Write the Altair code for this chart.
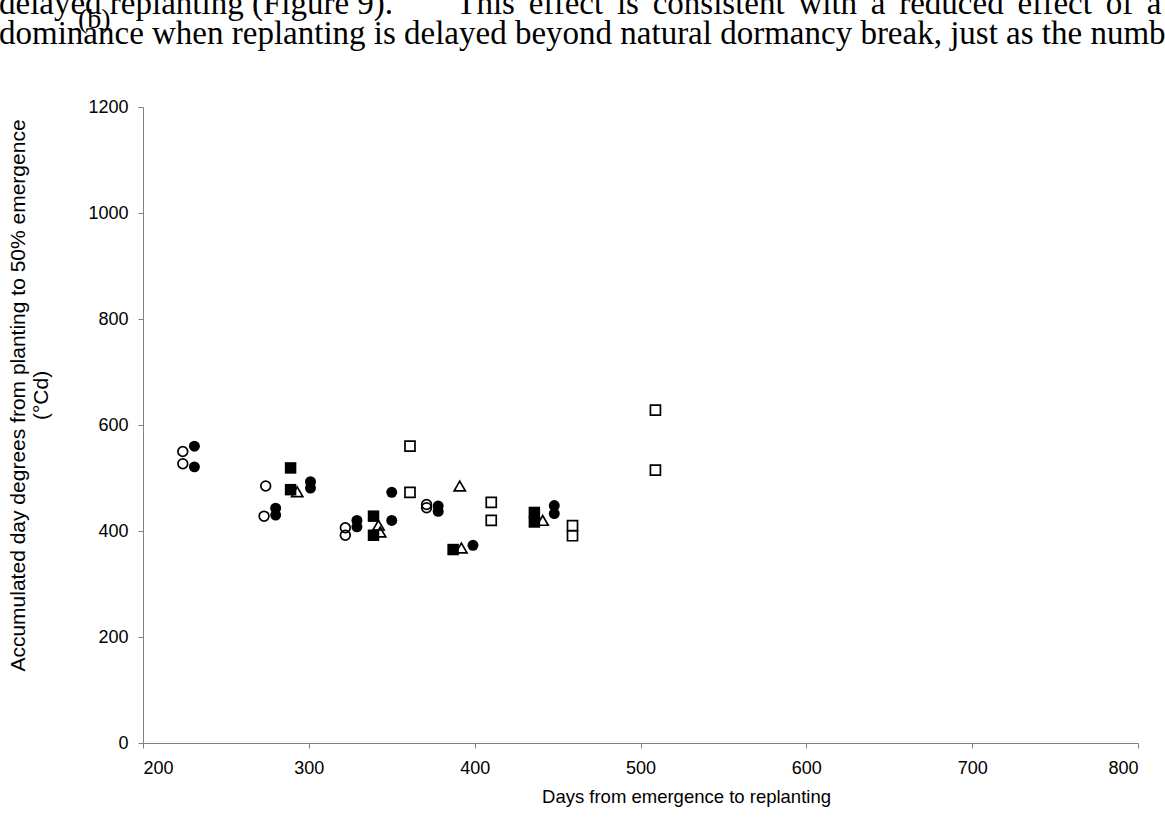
import altair as alt
import pandas as pd

# Days from emergence to replanting (x) and accumulated day degrees (y), per symbol group
open_circle_days = [224, 224, 274, 273, 322, 322, 371, 371]
open_circle_cd = [550, 527, 485, 428, 406, 392, 450, 444]

filled_circle_days = [231, 231, 280, 280, 301, 301, 329, 329, 350, 350, 378, 378, 399, 448, 448]
filled_circle_cd = [560, 521, 443, 430, 493, 481, 420, 408, 473, 420, 447, 437, 373, 448, 433]

filled_square_days = [289, 289, 339, 339, 387, 436, 436]
filled_square_cd = [519, 478, 428, 392, 365, 435, 417]

open_square_days = [361, 361, 410, 410, 459, 459, 509, 509]
open_square_cd = [560, 473, 454, 420, 410, 391, 628, 515]

open_triangle_days = [293, 342, 343, 391, 392, 441]
open_triangle_cd = [474, 411, 398, 485, 368, 420]

x_ticks = [200, 300, 400, 500, 600, 700, 800]
y_ticks = [0, 200, 400, 600, 800, 1000, 1200]

# justified body text: widen the word gaps of the second sentence with six-per-em spaces
SIXEM = "\u2006"
NBSP = "\u00a0"
line_1_head = "delayed replanting (Figure 9)."
line_1_tail = ["This", "effect", "is", "consistent", "with", "a", "reduced", "effect", "of", "a"]
text_line_1 = line_1_head + NBSP * 7 + SIXEM + (" " + SIXEM).join(line_1_tail)
text_line_2 = "dominance when replanting is delayed beyond natural dormancy break, just as the numb"
panel_label = "(b)"

W, H = 995, 636
PAD_L, PAD_T = 143, 107

x_scale = alt.Scale(domain=[200, 800], nice=False, zero=False)
y_scale = alt.Scale(domain=[0, 1200], nice=False)

x_axis = alt.Axis(
    values=x_ticks, format="d", title="Days from emergence to replanting", grid=False,
    domainColor="#808080", tickColor="#808080", tickSize=5,
    labelFont="Liberation Sans", labelFontSize=18, labelColor="black", labelPadding=11,
    titleFont="Liberation Sans", titleFontSize=18.5, titleFontWeight="normal",
    titleColor="black", titlePadding=10, titleX=686 - PAD_L, titleAnchor="middle",
)
y_axis = alt.Axis(
    values=y_ticks, format="d",
    title=["Accumulated day degrees from planting to 50% emergence", "(°Cd)"],
    grid=False, domainColor="#808080", tickColor="#808080", tickSize=5,
    labelFont="Liberation Sans", labelFontSize=18, labelColor="black", labelPadding=10,
    titleFont="Liberation Sans", titleFontSize=21, titleFontWeight="normal",
    titleColor="black", titleLineHeight=23, titleBaseline="middle",
    titleX=18 - PAD_L, titleY=H / 2 - 30, titleAngle=270,
)


def group(days, cd, shape, filled, size, stroke_width=1.7):
    df = pd.DataFrame({"days": days, "cd": cd})
    if filled:
        mark = alt.Chart(df).mark_point(shape=shape, filled=True, size=size,
                                        color="black", opacity=1)
    else:
        mark = alt.Chart(df).mark_point(shape=shape, filled=False, size=size,
                                        color="black", opacity=1, strokeWidth=stroke_width)
    return mark.encode(
        x=alt.X("days:Q", scale=x_scale, axis=x_axis),
        y=alt.Y("cd:Q", scale=y_scale, axis=y_axis),
    )


layers = [
    group(open_circle_days, open_circle_cd, "circle", False, 95),
    group(filled_circle_days, filled_circle_cd, "circle", True, 120),
    group(filled_square_days, filled_square_cd, "square", True, 132),
    group(open_square_days, open_square_cd, "square", False, 100),
    group(open_triangle_days, open_triangle_cd, "triangle-up", False, 125),
]


def note(text, x, y, size):
    return alt.Chart(pd.DataFrame({"t": [text]})).mark_text(
        font="Liberation Serif", fontSize=size, align="left", baseline="alphabetic", color="black"
    ).encode(text="t:N", x=alt.value(x - PAD_L), y=alt.value(y - PAD_T))


body_text = [
    note(text_line_1, -1, 14, 33),
    note(text_line_2, -1, 44, 33),
    note(panel_label, 78, 28, 28),
]

chart = alt.layer(*layers, *body_text).properties(
    width=W, height=H,
    autosize=alt.AutoSizeParams(type="none"),
    padding={"left": PAD_L, "top": PAD_T, "right": 1165 - PAD_L - W, "bottom": 823 - PAD_T - H},
    background="white",
).configure_view(stroke=None)

chart.save("out.html", embed_options={"renderer": "svg", "actions": False})
